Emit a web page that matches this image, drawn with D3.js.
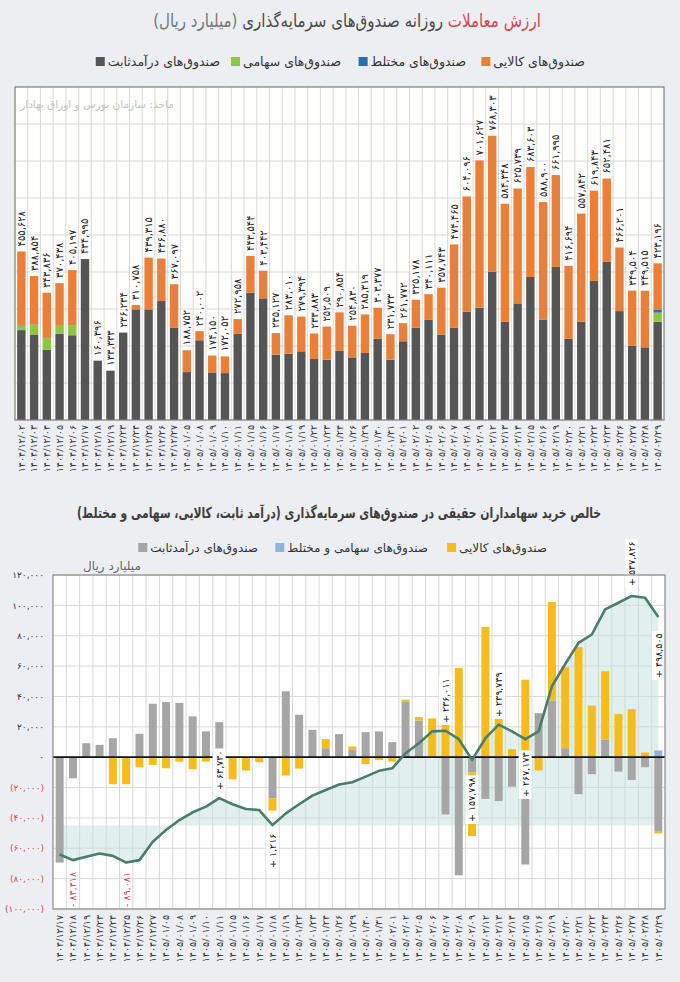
<!DOCTYPE html>
<html>
<head>
<meta charset="utf-8">
<script src="https://cdn.jsdelivr.net/npm/d3@7"></script>
<style>
body { margin: 0; background: #eceef1; }
svg { display: block; font-family: "DejaVu Sans", sans-serif; }
</style>
</head>
<body>
<svg id="chart" width="680" height="982"></svg>
<script>
// dates (top chart), the net-buy chart starts at the 6th one
var dates = ["1404/12/02","1404/12/03","1404/12/04","1404/12/05","1404/12/06","1404/12/17","1404/12/18","1404/12/19",
  "1404/12/23","1404/12/24","1404/12/25","1404/12/26","1404/12/27","1405/01/05","1405/01/08","1405/01/09","1405/01/10",
  "1405/01/11","1405/01/15","1405/01/16","1405/01/17","1405/01/18","1405/01/19","1405/01/22","1405/01/23","1405/01/24",
  "1405/01/26","1405/01/29","1405/01/30","1405/01/31","1405/02/01","1405/02/02","1405/02/05","1405/02/06","1405/02/07",
  "1405/02/08","1405/02/09","1405/02/12","1405/02/13","1405/02/14","1405/02/15","1405/02/16","1405/02/19","1405/02/20",
  "1405/02/21","1405/02/22","1405/02/23","1405/02/26","1405/02/27","1405/02/28","1405/02/29"];

// daily trade value, billion rials (labels)
var totals = [455628,388854,343836,370438,405197,434995,160396,133333,236234,310758,439315,436880,367097,188752,240002,
  174150,172052,272958,443544,403442,235127,283010,279394,233883,252509,290854,254830,285319,303377,231733,261772,
  325178,340111,357743,474465,604096,701627,768303,584348,625739,683603,588900,661995,416694,557842,619843,652481,
  466201,349504,349515,423196];
// segments, thousand billion rials
var fixedIncome = [243,231,190,233,229,435,160.4,133.3,236.2,299,299,321.5,249,129.5,215.5,128.6,126.8,233.7,344,328.8,
  176.6,179.3,185.6,164.9,163,187.5,169.3,181.2,220,163,212.8,249,271.7,231,249,292.5,303.4,401.2,265.4,315.2,386.7,
  271.7,413.8,219.2,265.4,375.8,427.4,294.3,201,196.5,265.4];
var equity = [10,26,31,21,26,0,0,0,0,0,0,0,0,0,0,0,0,0,0,0,0,0,0,0,0,0,0,0,0,0,0,0,0,0,0,0,0,0,0,0,0,0,0,0,0,0,0,0,0,0,25];
var mixed = [1.5,1,1,1,1,0,0,0,0,0,0,0,0,0,0,0,0,0,0,0,0,0,0,0,0,0,0,0,0,0,0,0,0,0,0,0,0,0,0,0,0,0,0,0,0,0,0,0,0,0,7];
var commodity = [201,131,122,115,149,0,0,0,0,12,140,115,118,59,24.5,45.5,45,39,99.5,74.6,58.5,103.7,93.8,69,89.5,103.4,
  85.5,104,83.4,68.7,49,76,68.4,126.7,225.5,311.6,398.2,367.1,318.9,310.5,296.9,317.2,248.2,197.5,292.4,244,225.1,
  171.9,148.5,153,126];

// net buy of retail investors, thousand billion rials
var netFixed = [-69.4,-13.9,9.2,8.1,12.5,0,15.4,35.2,36.3,35.7,26.9,17,23.1,0,0,0,-27,43.4,27.9,18,5.9,15.2,4.8,16.5,17,
  9.9,36.8,24.2,0,-37.7,-77.8,-10,-27.5,-28.9,-19.4,-70.7,29,37.2,5.9,-24.4,-11.2,11.4,-9.5,-15,-6.6,-49.1];
var netCommodity = [0,0,0,0,-17.8,-17.8,-6.6,-5.1,-7.3,-2.9,-7.9,-2.9,-2,-14.5,-8.8,-3.3,-8.2,-12.1,-7.5,0,6,0,2.2,-4.6,
  -1.8,-2.9,1.1,2.2,25.5,30,58.8,-42,85.9,30,5.3,51,-8.8,65,53.4,72.5,33.9,45.2,28.4,31.7,3.1,-1.1];
var netMixed = [0,0,0,0,0,0,0,0,0,0,0,0,0,0,0,0,0,0,0,0,0,0,0,0,0,0,0,0,0,0,0,0,0,0,0,0,0,0,0,0,0,0,0,0,0,4.4];
var cumulative = [-64.1,-67.8,-65.6,-63.4,-65,-69.4,-67.8,-55.7,-48,-41.4,-36.3,-32.6,-27,-31,-34.1,-34.8,-44.7,-37,-31,
  -25.3,-21.6,-18,-16.5,-12.8,-9,-7.3,2.6,9.2,17,17.4,11.9,-1.8,12.5,21.4,17,11.9,17,46.7,61.4,75.3,80.8,97.3,101.7,
  106.2,105,92.3];
var bottomTicks = [120,100,80,60,40,20,0,-20,-40,-60,-80,-100];

// labelled points on the net-buy chart
var notes = [
  { i: 12, text: "+ 63,730", at: 790 },
  { i: 16, text: "+ 1,216", at: 868 },
  { i: 29, text: "+ 236,011", at: 723 },
  { i: 31, text: "+ 157,798", at: 822 },
  { i: 33, text: "+ 239,739", at: 717 },
  { i: 35, text: "+ 267,173", at: 797 },
  { i: 43, text: "+ 547,826", at: 586 },
  { i: 45, text: "+ 498,505", at: 678 }
];
var redNotes = [{ i: 1, text: "- 83,418" }, { i: 5, text: "- 89,081" }];

(function () {
var fa = function (s) { return String(s).replace(/\d/g, function (d) { return "۰۱۲۳۴۵۶۷۸۹"[d]; }); };
var fmt = d3.format(",");

var svg = d3.select("#chart");

// squeeze a centred text horizontally so it spans a given width
function fitWidth(sel, cx, y, w) {
  var len = sel.node().getComputedTextLength();
  var s = Math.min(1, w / len);
  sel.attr("x", 0).attr("y", 0)
    .attr("transform", "translate(" + cx + "," + y + ") scale(" + s.toFixed(3) + ",1)");
}

// ---------- top chart ----------
var title1 = svg.append("text")
  .attr("text-anchor", "middle").attr("direction", "rtl")
  .style("font-size", "18px")
  .call(function (t) {
    t.append("tspan").attr("fill", "#d9454f").text("ارزش معاملات");
    t.append("tspan").attr("fill", "#4a4a4a").text(" روزانه صندوق‌های سرمایه‌گذاری ");
    t.append("tspan").attr("fill", "#777").text("(میلیارد ریال)");
  });
fitWidth(title1, 347, 27, 388);

var legend1 = [
  { name: "صندوق‌های کالایی", color: "#ec7f37", x: 585 },
  { name: "صندوق‌های مختلط", color: "#2271b3", x: 466 },
  { name: "صندوق‌های سهامی", color: "#8dc63f", x: 341 },
  { name: "صندوق‌های درآمدثابت", color: "#555555", x: 220 }
];
var lg1 = svg.append("g").selectAll("g").data(legend1).enter().append("g");
lg1.append("text")
  .attr("x", function (d) { return d.x; }).attr("y", 66)
  .attr("text-anchor", "start").attr("direction", "rtl")
  .style("font-size", "12.5px").attr("fill", "#333")
  .text(function (d) { return d.name; });
lg1.each(function (d) {
  var g = d3.select(this);
  var w = g.select("text").node().getComputedTextLength();
  g.append("rect").attr("x", d.x - w - 12).attr("y", 57).attr("width", 9).attr("height", 9).attr("fill", d.color);
});

var box1 = { left: 15, right: 664, top: 87, bottom: 420 };
var x1 = d3.scaleBand().domain(d3.range(dates.length)).range([box1.left, box1.right]).paddingInner(0.34).paddingOuter(0.17);
var y1 = d3.scaleLinear().domain([0, 900]).range([box1.bottom, box1.top]);

svg.append("rect")
  .attr("x", box1.left).attr("y", box1.top)
  .attr("width", box1.right - box1.left).attr("height", box1.bottom - box1.top)
  .attr("fill", "#fefefd");

var g1 = svg.append("g");
g1.selectAll(".hg").data(d3.range(100, 900, 100)).enter().append("line")
  .attr("x1", box1.left).attr("x2", box1.right)
  .attr("y1", function (d) { return y1(d); }).attr("y2", function (d) { return y1(d); })
  .attr("stroke", "#d9d9d9");
g1.selectAll(".vg").data(d3.range(1, dates.length)).enter().append("line")
  .attr("x1", function (i) { return box1.left + i * x1.step(); })
  .attr("x2", function (i) { return box1.left + i * x1.step(); })
  .attr("y1", box1.top).attr("y2", box1.bottom)
  .attr("stroke", "#d9d9d9");

svg.append("text")
  .attr("x", 97).attr("y", 108).attr("text-anchor", "middle").attr("direction", "rtl")
  .style("font-size", "10.5px").attr("fill", "#c4c4c4")
  .text("ماخذ: سازمان بورس و اوراق بهادار");

var rows1 = dates.map(function (d, i) {
  return { i: i, fixed: fixedIncome[i], equity: equity[i], mixed: mixed[i], commodity: commodity[i] };
});
var keys1 = ["fixed", "equity", "mixed", "commodity"];
var colors1 = { fixed: "#555555", equity: "#8dc63f", mixed: "#2271b3", commodity: "#ec7f37" };
var stack1 = d3.stack().keys(keys1)(rows1);

g1.selectAll(".layer").data(stack1).enter().append("g")
  .attr("fill", function (d) { return colors1[d.key]; })
  .selectAll("rect").data(function (d) { return d; }).enter().append("rect")
  .attr("x", function (d) { return x1(d.data.i); })
  .attr("width", x1.bandwidth())
  .attr("y", function (d) { return y1(d[1]); })
  .attr("height", function (d) { return Math.max(0, y1(d[0]) - y1(d[1])); });

g1.selectAll(".val").data(totals).enter().append("text")
  .attr("transform", function (d, i) {
    return "translate(" + (x1(i) + x1.bandwidth() / 2) + "," + (y1(d / 1000) - 5) + ") rotate(-90)";
  })
  .attr("dy", "0.35em").attr("text-anchor", "start")
  .style("font-size", "10px").attr("fill", "#222")
  .style("paint-order", "stroke").attr("stroke", "#fff").attr("stroke-width", 2.5)
  .text(function (d) { return fa(fmt(d)); });

svg.append("rect")
  .attr("x", box1.left).attr("y", box1.top)
  .attr("width", box1.right - box1.left).attr("height", box1.bottom - box1.top)
  .attr("fill", "none").attr("stroke", "#7d7d7d").attr("stroke-width", 1.2);

g1.selectAll(".xl").data(dates).enter().append("text")
  .attr("transform", function (d, i) {
    return "translate(" + (x1(i) + x1.bandwidth() / 2) + "," + (box1.bottom + 5) + ") rotate(-90)";
  })
  .attr("dy", "0.35em").attr("text-anchor", "end")
  .style("font-size", "9.5px").attr("fill", "#333")
  .text(function (d) { return fa(d); });

// ---------- bottom chart ----------
var title2 = svg.append("text")
  .attr("text-anchor", "middle").attr("direction", "rtl")
  .style("font-size", "15px").style("font-weight", "bold").attr("fill", "#3d3d3d")
  .text("خالص خرید سهامداران حقیقی در صندوق‌های سرمایه‌گذاری (درآمد ثابت، کالایی، سهامی و مختلط)");
fitWidth(title2, 339, 518, 524);

var legend2 = [
  { name: "صندوق‌های کالایی", color: "#f7bd16", x: 547 },
  { name: "صندوق‌های سهامی و مختلط", color: "#8fb4da", x: 428 },
  { name: "صندوق‌های درآمدثابت", color: "#a6a6a6", x: 258 }
];
var lg2 = svg.append("g").selectAll("g").data(legend2).enter().append("g");
lg2.append("text")
  .attr("x", function (d) { return d.x; }).attr("y", 552)
  .attr("text-anchor", "start").attr("direction", "rtl")
  .style("font-size", "12px").attr("fill", "#333")
  .text(function (d) { return d.name; });
lg2.each(function (d) {
  var g = d3.select(this);
  var w = g.select("text").node().getComputedTextLength();
  g.append("rect").attr("x", d.x - w - 12).attr("y", 543).attr("width", 9).attr("height", 9).attr("fill", d.color);
});

svg.append("text")
  .attr("x", 112).attr("y", 570).attr("text-anchor", "middle").attr("direction", "rtl")
  .style("font-size", "12px").attr("fill", "#666").text("میلیارد ریال");

var box2 = { left: 53, right: 665, top: 575, bottom: 909 };
var n2 = netFixed.length;
var x2 = d3.scaleBand().domain(d3.range(n2)).range([box2.left, box2.right]).paddingInner(0.4).paddingOuter(0.2);
var y2 = d3.scaleLinear().domain([-100, 120]).range([box2.bottom, box2.top]);
var cx2 = function (i) { return x2(i) + x2.bandwidth() / 2; };

svg.append("rect")
  .attr("x", box2.left).attr("y", box2.top)
  .attr("width", box2.right - box2.left).attr("height", box2.bottom - box2.top)
  .attr("fill", "#fefefe");

var g2 = svg.append("g");
g2.selectAll(".hg").data(bottomTicks).enter().append("line")
  .attr("x1", box2.left).attr("x2", box2.right)
  .attr("y1", function (d) { return y2(d); }).attr("y2", function (d) { return y2(d); })
  .attr("stroke", "#d9d9d9");
g2.selectAll(".vg").data(d3.range(1, n2)).enter().append("line")
  .attr("x1", function (i) { return box2.left + i * x2.step(); })
  .attr("x2", function (i) { return box2.left + i * x2.step(); })
  .attr("y1", box2.top).attr("y2", box2.bottom)
  .attr("stroke", "#d9d9d9");

g2.append("path")
  .datum(cumulative)
  .attr("fill", "#c3e2d9").attr("fill-opacity", 0.5)
  .attr("d", d3.area()
    .x(function (d, i) { return cx2(i); })
    .y0(y2(-45))
    .y1(function (d) { return y2(d); }));

var rows2 = netFixed.map(function (d, i) {
  return { i: i, fixed: d, commodity: netCommodity[i], mixed: netMixed[i] };
});
var colors2 = { fixed: "#a6a6a6", commodity: "#f7bd16", mixed: "#8fb4da" };
var stack2 = d3.stack().keys(["fixed", "commodity", "mixed"]).offset(d3.stackOffsetDiverging)(rows2);

g2.selectAll(".layer").data(stack2).enter().append("g")
  .attr("fill", function (d) { return colors2[d.key]; })
  .selectAll("rect").data(function (d) { return d; }).enter().append("rect")
  .attr("x", function (d) { return x2(d.data.i); })
  .attr("width", x2.bandwidth())
  .attr("y", function (d) { return y2(Math.max(d[0], d[1])); })
  .attr("height", function (d) { return Math.abs(y2(d[0]) - y2(d[1])); });

g2.append("line")
  .attr("x1", box2.left).attr("x2", box2.right)
  .attr("y1", y2(0)).attr("y2", y2(0))
  .attr("stroke", "#111").attr("stroke-width", 1.8);

g2.append("path")
  .datum(cumulative)
  .attr("fill", "none").attr("stroke", "#4a7d6b").attr("stroke-width", 2.6)
  .attr("stroke-linejoin", "round")
  .attr("d", d3.line()
    .x(function (d, i) { return cx2(i); })
    .y(function (d) { return y2(d); }));

// annotations
var ann = g2.selectAll(".ann").data(notes).enter().append("g")
  .attr("transform", function (d) { return "translate(" + cx2(d.i) + "," + d.at + ") rotate(-90)"; });
ann.append("text")
  .attr("dy", "0.35em").attr("text-anchor", "start")
  .style("font-size", "9.5px").attr("fill", "#111")
  .text(function (d) { return fa(d.text); });
ann.each(function () {
  var g = d3.select(this);
  var b = g.select("text").node().getBBox();
  g.insert("rect", "text")
    .attr("x", b.x - 2).attr("y", b.y - 1)
    .attr("width", b.width + 4).attr("height", b.height + 2)
    .attr("fill", "#fff");
});

g2.selectAll(".red").data(redNotes).enter().append("text")
  .attr("transform", function (d) { return "translate(" + cx2(d.i) + "," + (box2.bottom - 2) + ") rotate(-90)"; })
  .attr("dy", "0.35em").attr("text-anchor", "start")
  .style("font-size", "9.5px").attr("fill", "#d9454f")
  .text(function (d) { return fa(d.text); });

svg.append("rect")
  .attr("x", box2.left).attr("y", box2.top)
  .attr("width", box2.right - box2.left).attr("height", box2.bottom - box2.top)
  .attr("fill", "none").attr("stroke", "#8a8a8a").attr("stroke-width", 1.2);

// y ticks
svg.append("g").selectAll("text").data(bottomTicks).enter().append("text")
  .attr("x", 44).attr("y", function (d) { return y2(d); })
  .attr("dy", "0.35em").attr("text-anchor", "end")
  .style("font-size", "9px")
  .attr("fill", function (d) { return d < 0 ? "#d9454f" : "#333"; })
  .text(function (d) {
    if (d === 0) return "۰";
    var s = fa(fmt(Math.abs(d) * 1000));
    return d < 0 ? "(" + s + ")" : s;
  });

// x labels
svg.append("g").selectAll("text").data(dates.slice(5)).enter().append("text")
  .attr("transform", function (d, i) { return "translate(" + cx2(i) + "," + (box2.bottom + 6) + ") rotate(-90)"; })
  .attr("dy", "0.35em").attr("text-anchor", "end")
  .style("font-size", "9.5px").attr("fill", "#333")
  .text(function (d) { return fa(d); });
})();
</script>
</body>
</html>
